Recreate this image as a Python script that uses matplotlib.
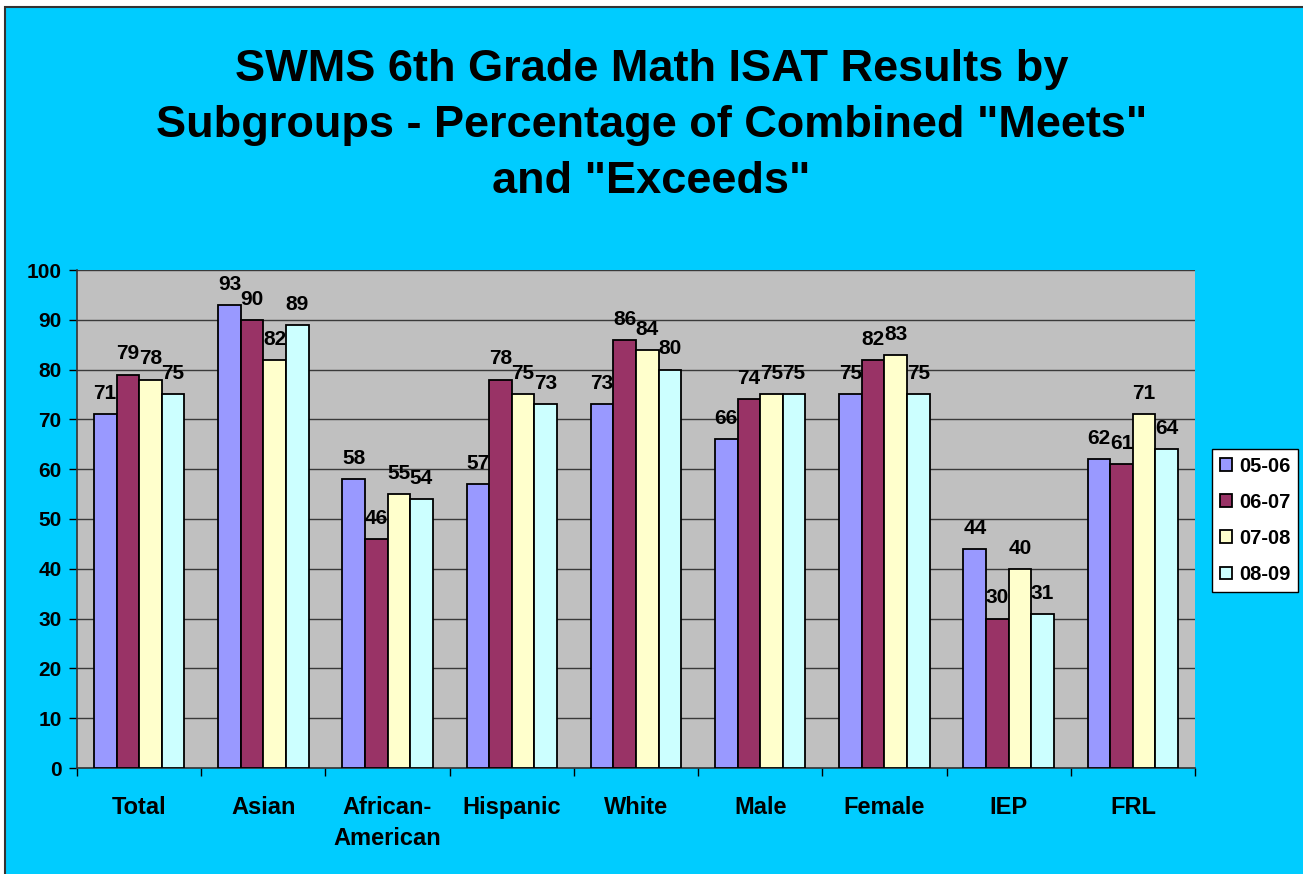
import matplotlib.pyplot as plt
import matplotlib.patches as patches
import numpy as np

categories = ['Total', 'Asian', 'African-\nAmerican', 'Hispanic', 'White',
              'Male', 'Female', 'IEP', 'FRL']
years = ['05-06', '06-07', '07-08', '08-09']
v0506 = [71, 93, 58, 57, 73, 66, 75, 44, 62]
v0607 = [79, 90, 46, 78, 86, 74, 82, 30, 61]
v0708 = [78, 82, 55, 75, 84, 75, 83, 40, 71]
v0809 = [75, 89, 54, 73, 80, 75, 75, 31, 64]
series = [v0506, v0607, v0708, v0809]
colors = ['#9999FF', '#993366', '#FFFFCC', '#CCFFFF']

plt.rcParams['font.family'] = ['Liberation Sans', 'DejaVu Sans']
plt.rcParams['font.weight'] = 'bold'

W, H = 1303, 874
fig = plt.figure(figsize=(W / 100, H / 100), dpi=100)
fig.patch.set_facecolor('white')
# cyan chart area, border only shows on top and left
fig.patches.append(patches.Rectangle((5 / W, -10 / H), 1320 / W, (H + 3) / H,
                                     transform=fig.transFigure,
                                     facecolor='#00CCFF', edgecolor='#333333',
                                     linewidth=1.5, zorder=-5))

ax = fig.add_axes([77 / W, 106 / H, 1118 / W, 498 / H])
ax.set_facecolor('#C0C0C0')

x = np.arange(len(categories))
w = 1 / 5.5
for i, (vals, c, lab) in enumerate(zip(series, colors, years)):
    pos = x + (i - 1.5) * w
    ax.bar(pos, vals, width=w, color=c, edgecolor='black', linewidth=1.3,
           label=lab, zorder=3)
    for px, v in zip(pos, vals):
        ax.annotate(str(v), (px, v), xytext=(0, 8), textcoords='offset points',
                    ha='center', va='bottom', fontsize=15, fontweight='bold')

ax.set_xlim(-0.5, len(categories) - 0.5)
ax.set_ylim(0, 100)
ax.set_yticks(range(0, 101, 10))
ax.yaxis.grid(True, color='#3a3a3a', linewidth=1, zorder=0)
ax.set_xticks(x)
ax.set_xticklabels(categories, fontsize=17, fontweight='bold', linespacing=1.45)
ax.set_xticks(np.arange(-0.5, len(categories)), minor=True)
ax.tick_params(axis='x', which='major', length=0, pad=20)
ax.tick_params(axis='x', which='minor', length=6, width=1, direction='out')
ax.tick_params(axis='y', length=6, width=1, labelsize=15, pad=5)
for t in ax.get_yticklabels():
    t.set_fontweight('bold')
for s in ['top', 'right']:
    ax.spines[s].set_visible(False)
for s in ['left', 'bottom']:
    ax.spines[s].set_color('#333333')
    ax.spines[s].set_linewidth(1.2)

fig.text(0.5, 1 - 49 / H, 'SWMS 6th Grade Math ISAT Results by\n'
         'Subgroups - Percentage of Combined "Meets"\nand "Exceeds"',
         ha='center', va='top', fontsize=32.5, fontweight='bold',
         linespacing=1.47)

leg = fig.legend(loc='upper left', bbox_to_anchor=(1212 / W, 1 - 449 / H),
                 fontsize=14.5, frameon=True, fancybox=False, edgecolor='black',
                 framealpha=1, handlelength=0.6, handleheight=0.6,
                 handletextpad=0.35, labelspacing=0.85, borderpad=0.38,
                 borderaxespad=0)
leg.get_frame().set_facecolor('white')
leg.get_frame().set_linewidth(1)
for t in leg.get_texts():
    t.set_fontweight('bold')

fig.savefig('out.png', dpi=100, facecolor=fig.get_facecolor())
